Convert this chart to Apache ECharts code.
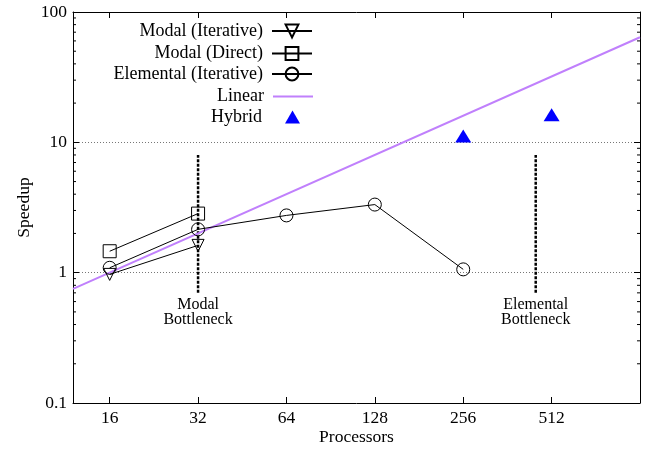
<!DOCTYPE html>
<html><head><meta charset="utf-8">
<script src="https://cdn.jsdelivr.net/npm/echarts@6/dist/echarts.min.js"></script>
<style>html,body{margin:0;padding:0;background:#fff}#c{width:654px;height:450px}</style>
</head><body><div id="c"></div>
<script>
// ---- data ----
const modalProcs = [16, 32];
const modalIterative = [0.97, 1.62];
const modalDirect = [1.46, 2.84];
const elementalProcs = [16, 32, 64, 128, 256];
const elementalIterative = [1.09, 2.15, 2.75, 3.33, 1.06];
const linearProcs = [12, 1024];
const linearSpeedup = [0.75, 64];
const hybridProcs = [256, 512];
const hybridSpeedup = [11.2, 16.3];
const bottleneckProcs = [32, 452];
const bottleneckLabels = ['Modal\nBottleneck', 'Elemental\nBottleneck'];
const bottleneckRange = [0.7, 8];
const yMinorTicks = [0.2,0.3,0.4,0.5,0.6,0.7,0.8,0.9,2,3,4,5,6,7,8,9,20,30,40,50,60,70,80,90];
const seriesNames = ['Modal (Iterative)', 'Modal (Direct)', 'Elemental (Iterative)', 'Linear', 'Hybrid'];

const FONT = 'Liberation Serif';
const zip = (xs, ys) => xs.map((x, i) => [x, ys[i]]);

const chart = echarts.init(document.getElementById('c'), null, {renderer: 'canvas'});

const xBase = {
  type: 'log', logBase: 2, min: 12, max: 1024,
  axisLine: {show: true, lineStyle: {color: '#000', width: 1}},
  axisTick: {show: true, inside: true, length: 6, lineStyle: {color: '#000'}},
  splitLine: {show: false}
};
const yBase = {
  type: 'log', logBase: 10, min: 0.1, max: 100,
  axisLine: {show: true, lineStyle: {color: '#000', width: 1}},
  axisTick: {show: true, inside: true, length: 6, lineStyle: {color: '#000'}}
};

const legendTops = [22, 44.5, 65, 87.5, 108];
const legendHeights = [16, 16, 16, 2, 13];
const legendWidths = [40, 40, 40, 40, 15];
const legendRights = [341, 341, 341, 341, 354];
const legendTextPad = [4, 4, 4, 4, 18];
const legendIcons = [null, null, null, 'rect', 'triangle'];

const bottleneckSeries = bottleneckProcs.map((p, i) => ({
  type: 'line', silent: true, symbol: 'circle', symbolSize: 0, showSymbol: true,
  lineStyle: {color: '#000', width: 2.5, type: [3, 1.5]},
  itemStyle: {color: '#000'},
  data: [
    {value: [p, bottleneckRange[0]], label: {show: true, position: 'bottom', distance: 4,
      formatter: bottleneckLabels[i], fontFamily: FONT, fontSize: 16, color: '#000', lineHeight: 15.5, align: 'center'}},
    [p, bottleneckRange[1]]
  ],
  z: 1
}));

const option = {
  animation: false,
  backgroundColor: '#fff',
  grid: {left: 73, right: 14, top: 12, bottom: 47, containLabel: false, outerBoundsMode: 'none'},
  legend: seriesNames.map((n, i) => ({
    data: [legendIcons[i] ? {name: n, icon: legendIcons[i]} : {name: n}],
    right: legendRights[i], top: legendTops[i], orient: 'vertical', align: 'right',
    itemWidth: legendWidths[i], itemHeight: legendHeights[i], padding: 0, itemGap: 0,
    selectedMode: false,
    textStyle: {fontFamily: FONT, fontSize: 18, color: '#000', padding: [0, legendTextPad[i], 0, 0]}
  })),
  xAxis: [
    Object.assign({}, xBase, {
      position: 'bottom', name: 'Processors', nameLocation: 'middle', nameGap: 25, nameMoveOverlap: false,
      nameTextStyle: {fontFamily: FONT, fontSize: 17.5, color: '#000'},
      axisLabel: {fontFamily: FONT, fontSize: 17.5, color: '#000', margin: 6,
        showMinLabel: false, showMaxLabel: false,
        formatter: v => String(Math.round(v))}
    }),
    Object.assign({}, xBase, {position: 'top', axisLabel: {show: false}})
  ],
  yAxis: [
    Object.assign({}, yBase, {
      position: 'left', name: 'Speedup', nameLocation: 'middle', nameGap: 40, nameMoveOverlap: false,
      nameTextStyle: {fontFamily: FONT, fontSize: 17.5, color: '#000'},
      axisLabel: {fontFamily: FONT, fontSize: 17.5, color: '#000', margin: 6,
        formatter: v => String(Math.round(v * 10) / 10)},
      splitLine: {show: true, lineStyle: {color: '#777', width: 1, type: [1, 2]}}
    }),
    Object.assign({}, yBase, {position: 'right', axisLabel: {show: false}, splitLine: {show: false}})
  ],
  series: [
    {
      name: seriesNames[0], type: 'line', data: zip(modalProcs, modalIterative),
      symbol: 'triangle', symbolRotate: 180, symbolSize: 12,
      lineStyle: {color: '#000', width: 1},
      itemStyle: {color: 'rgba(255,255,255,0)', borderColor: '#000', borderWidth: 1}, z: 3
    },
    {
      name: seriesNames[1], type: 'line', data: zip(modalProcs, modalDirect),
      symbol: 'rect', symbolSize: 13,
      lineStyle: {color: '#000', width: 1},
      itemStyle: {color: 'rgba(255,255,255,0)', borderColor: '#000', borderWidth: 1}, z: 3
    },
    {
      name: seriesNames[2], type: 'line', data: zip(elementalProcs, elementalIterative),
      symbol: 'circle', symbolSize: 13,
      lineStyle: {color: '#000', width: 1},
      itemStyle: {color: 'rgba(255,255,255,0)', borderColor: '#000', borderWidth: 1}, z: 3
    },
    {
      name: seriesNames[3], type: 'line', data: zip(linearProcs, linearSpeedup),
      symbol: 'none', lineStyle: {color: '#c080fc', width: 2}, itemStyle: {color: '#c080fc'}, z: 2
    },
    {
      name: seriesNames[4], type: 'scatter', data: zip(hybridProcs, hybridSpeedup),
      symbol: 'triangle', symbolSize: [16, 13], itemStyle: {color: '#0000ff', opacity: 1}, z: 3
    },
    ...bottleneckSeries,
    {
      type: 'custom', silent: true, z: 5,
      data: yMinorTicks.map(v => [16, v]),
      encode: {x: 0, y: 1},
      renderItem: function (params, api) {
        const cs = params.coordSys;
        const y = api.coord([16, api.value(1)])[1];
        return {type: 'group', children: [
          {type: 'line', shape: {x1: cs.x, y1: y, x2: cs.x + 3, y2: y}, style: {stroke: '#000', lineWidth: 1}},
          {type: 'line', shape: {x1: cs.x + cs.width - 3, y1: y, x2: cs.x + cs.width, y2: y}, style: {stroke: '#000', lineWidth: 1}}
        ]};
      }
    }
  ]
};
chart.setOption(option);
</script></body></html>
